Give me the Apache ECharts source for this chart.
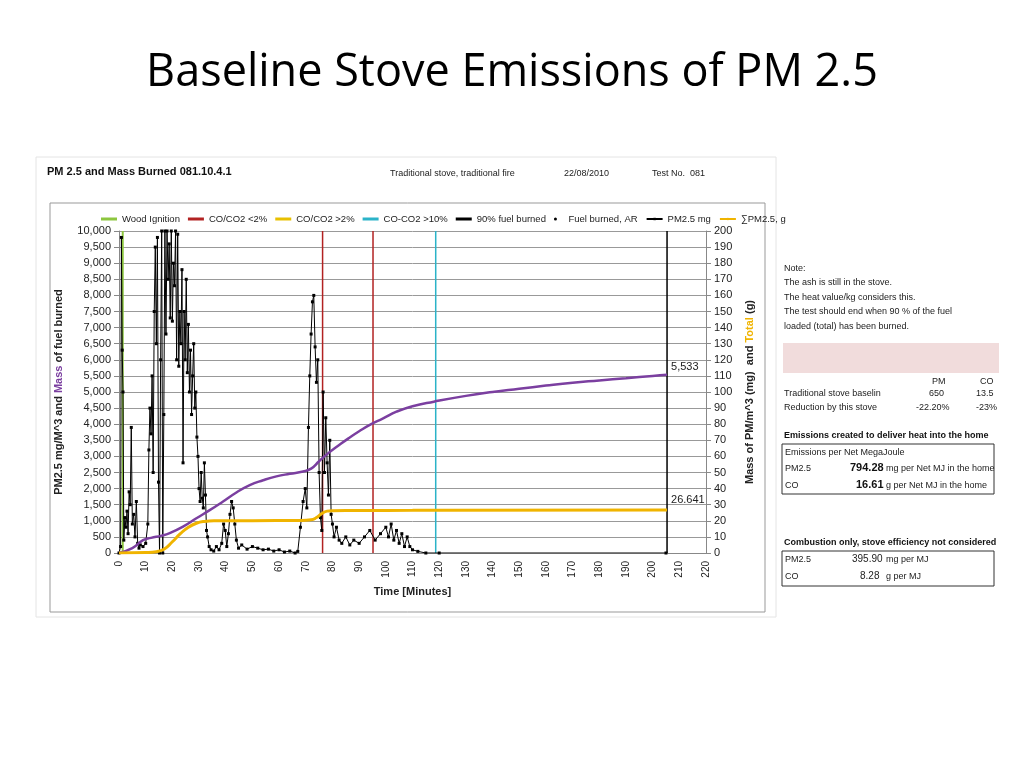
<!DOCTYPE html>
<html><head><meta charset="utf-8">
<script src="https://cdn.jsdelivr.net/npm/echarts@6/dist/echarts.min.js"></script>
<style>html,body{margin:0;padding:0;background:#fff}#c{width:1024px;height:768px}</style>
</head><body><div id="c"></div>
<script>
// ---- data ----
const woodIgnitionX = 1.4;
const coLow2X = [76.3, 95.2];
const coHigh10X = 118.7;
const fuel90X = 205.4;
// Fuel burned (left axis, g) [min, value]
const fuelBurned = [[0,0],[5,150],[9,400],[12,470],[16,540],[19,620],[24,820],[29,1080],[34,1330],[39,1600],[44,1880],[49,2110],[54,2260],[59,2380],[64,2460],[69,2530],[72,2620],[75,2850],[78,3070],[82,3320],[86,3560],[90,3780],[94,3980],[99,4180],[104,4390],[110,4560],[118,4700],[130,4880],[140,5000],[150,5100],[160,5200],[170,5290],[180,5360],[190,5430],[200,5500],[205.4,5533]];
// Cumulative PM2.5 (right axis, g)
const pmCumulative = [[0,0],[10,0.3],[14,0.8],[17,2.5],[20,7],[23,12],[26,16],[29,18.5],[32,19.6],[36,20],[50,20.1],[68,20.2],[72,20.6],[74,22],[76,24.5],[78,26],[80,26.3],[90,26.4],[110,26.5],[120,26.6],[205.4,26.641]];
// PM2.5 concentration (left axis, mg/m^3)
const pm25 = [[0,0],[0.6,200],[0.9,9800],[1.2,6300],[1.5,5000],[1.8,400],[2.2,1100],[2.6,800],[3,1300],[3.4,600],[3.8,1900],[4.2,1500],[4.6,3900],[5,900],[5.5,1200],[6,500],[6.5,1600],[7,300],[7.5,150],[8,250],[9,200],[10,300],[10.8,900],[11.2,3200],[11.6,4500],[12,3700],[12.4,5500],[12.8,2500],[13.2,7500],[13.6,9500],[14,6500],[14.4,9800],[14.8,2200],[15.2,0],[15.6,6000],[16,10000],[16.4,0],[16.8,4300],[17.2,10000],[17.6,6800],[18,10000],[18.4,8500],[18.8,9600],[19.2,7300],[19.6,10000],[20,7200],[20.4,9000],[20.8,8300],[21.2,10000],[21.6,6000],[22,9900],[22.4,5800],[22.8,7500],[23.2,6500],[23.6,8800],[24,2800],[24.4,7500],[24.8,6000],[25.2,8500],[25.6,5600],[26,7100],[26.4,5000],[26.8,6300],[27.2,4300],[27.6,5500],[28,6500],[28.4,4500],[28.8,5000],[29.2,3600],[29.6,3000],[30,2000],[30.4,1600],[30.8,2500],[31.2,1700],[31.6,1400],[32,2800],[32.4,1800],[32.8,700],[33.2,500],[33.8,200],[34.5,100],[35.5,60],[36.5,200],[37.5,100],[38.5,300],[39.2,900],[39.8,700],[40.4,200],[41,600],[41.6,1200],[42.2,1600],[42.8,1400],[43.4,900],[44,400],[44.8,150],[46,250],[48,120],[50,200],[52,150],[54,100],[56,120],[58,60],[60,100],[62,30],[64,60],[66,0],[67,50],[68,800],[69,1600],[69.8,2000],[70.4,1400],[71,3900],[71.5,5500],[72,6800],[72.5,7800],[73,8000],[73.5,6400],[74,5300],[74.5,6000],[75,2500],[75.5,1100],[76,700],[76.5,5000],[77,2500],[77.5,4200],[78,2800],[78.5,1800],[79,3500],[79.5,1200],[80,900],[80.6,500],[81.5,800],[82.5,400],[83.5,300],[85,500],[86.5,250],[88,400],[90,300],[92,500],[94,700],[96,400],[98,600],[100,800],[101,500],[102,900],[103,400],[104,700],[105,300],[106,600],[107,200],[108,500],[109,200],[110,100],[112,50],[115,0],[120,0],[205,0]];
const leftTicks = {min:0,max:10000,interval:500};
const rightTicks = {min:0,max:200,interval:10};

const chart = echarts.init(document.getElementById('c'));
const fz = 'Liberation Sans, Arial, sans-serif';
function vline(x){return [[x,0],[x,10000]];}
const series = [
 {name:'Wood Ignition',type:'line',data:vline(woodIgnitionX),symbol:'none',lineStyle:{color:'#8dc63f',width:2},color:'#8dc63f'},
 {name:'CO/CO2 <2%',type:'line',data:vline(coLow2X[0]),symbol:'none',lineStyle:{color:'#b22222',width:1.5},color:'#b22222'},
 {name:'CO/CO2 <2%',type:'line',data:vline(coLow2X[1]),symbol:'none',lineStyle:{color:'#b22222',width:1.5},color:'#b22222'},
 {name:'CO/CO2 >2%',type:'line',data:[],symbol:'none',lineStyle:{color:'#e8c000',width:2},color:'#e8c000'},
 {name:'CO-CO2 >10%',type:'line',data:vline(coHigh10X),symbol:'none',lineStyle:{color:'#2bb3c8',width:1.5},color:'#2bb3c8'},
 {name:'90% fuel burned',type:'line',data:vline(fuel90X),symbol:'none',lineStyle:{color:'#000',width:1.5},color:'#000'},
 {name:'PM2.5 mg',type:'line',data:pm25,symbol:'rect',symbolSize:3,itemStyle:{color:'#000'},lineStyle:{color:'#000',width:1},color:'#000',z:3},
 {name:'Fuel burned, AR',type:'line',data:fuelBurned,smooth:true,symbol:'none',lineStyle:{color:'#7b3fa0',width:2.5},color:'#7b3fa0',z:4,
  endLabel:{show:true,formatter:'5,533',color:'#222',fontSize:11,fontFamily:fz,offset:[-4,-8]}},
 {name:'∑PM2.5, g',type:'line',yAxisIndex:1,data:pmCumulative,smooth:true,symbol:'none',lineStyle:{color:'#f0b400',width:3},color:'#f0b400',z:4,
  endLabel:{show:true,formatter:'26.641',color:'#222',fontSize:11,fontFamily:fz,offset:[-4,-10]}}
];
const axLab = {fontSize:11,color:'#222',fontFamily:fz};
const li = (n,icon,c)=>({name:n,icon:icon,itemStyle:{color:c}});
chart.setOption({
 animation:false,
 textStyle:{fontFamily:fz},
 title:{text:'Baseline Stove Emissions of PM 2.5',left:'center',top:46,textStyle:{fontSize:45,fontWeight:'normal',color:'#000',fontFamily:'Open Sans, sans-serif'}},
 legend:{top:209,left:96,itemGap:8,itemWidth:16,itemHeight:3,textStyle:{fontSize:9.5,color:'#222'},
   data:[li('Wood Ignition','rect'),li('CO/CO2 <2%','rect'),li('CO/CO2 >2%','rect'),li('CO-CO2 >10%','rect'),li('90% fuel burned','rect'),
     {name:'Fuel burned, AR',icon:'circle',itemStyle:{color:'#000'}},{name:'PM2.5 mg'},{name:'∑PM2.5, g'}]},
 grid:{left:119,right:318,top:231,bottom:215},
 xAxis:{type:'value',min:0,max:220,interval:10,name:'Time [Minutes]',nameLocation:'middle',nameGap:33,
   nameTextStyle:{fontSize:11,fontWeight:'bold',color:'#222'},
   axisLabel:Object.assign({rotate:90},axLab,{fontSize:10}),splitLine:{show:false},axisLine:{lineStyle:{color:'#888'}},axisTick:{show:false}},
 yAxis:[
  {type:'value',min:leftTicks.min,max:leftTicks.max,interval:leftTicks.interval,
   axisLabel:Object.assign({formatter:v=>v.toLocaleString('en-US')},axLab),splitLine:{lineStyle:{color:'#999'}},axisLine:{show:true,lineStyle:{color:'#888'}},
   name:'{a|PM2.5 mg/M^3 and }{p|Mass}{a| of fuel burned}',nameLocation:'middle',nameGap:55,nameRotate:90,
   nameTextStyle:{rich:{a:{fontSize:11,fontWeight:'bold',color:'#222'},p:{fontSize:11,fontWeight:'bold',color:'#7b3fa0'}}}},
  {type:'value',min:rightTicks.min,max:rightTicks.max,interval:rightTicks.interval,position:'right',
   axisLabel:axLab,splitLine:{show:false},axisLine:{show:true,lineStyle:{color:'#888'}},
   name:'{a|Mass of PM/m^3 (mg)  and }{y|Total}{a| (g)}',nameLocation:'middle',nameGap:38,nameRotate:90,
   nameTextStyle:{rich:{a:{fontSize:11,fontWeight:'bold',color:'#222'},y:{fontSize:11,fontWeight:'bold',color:'#f0b400'}}}}
 ],
 series:series,
 graphic:[
  {type:'rect',shape:{x:36,y:157,width:740,height:460},style:{fill:'none',stroke:'#e4e4e4'},z:-10},
  {type:'rect',shape:{x:50,y:203,width:715,height:409},style:{fill:'none',stroke:'#999'},z:-9},
  {type:'text',left:47,top:166,style:{text:'PM 2.5 and Mass Burned 081.10.4.1',font:'bold 11px '+fz,fill:'#111'}},
  {type:'text',left:390,top:169,style:{text:'Traditional stove, traditional fire',font:'9px '+fz,fill:'#222'}},
  {type:'text',left:564,top:169,style:{text:'22/08/2010',font:'9px '+fz,fill:'#222'}},
  {type:'text',left:652,top:169,style:{text:'Test No.  081',font:'9px '+fz,fill:'#222'}},
  {type:'text',left:784,top:261,style:{text:'Note:\nThe ash is still in the stove.\nThe heat value/kg considers this.\nThe test should end when 90 % of the fuel\nloaded (total) has been burned.',font:'9px '+fz,fill:'#222',lineHeight:14.5}},
  {type:'rect',shape:{x:783,y:343,width:216,height:30},style:{fill:'#f1dcdc'}},
  {type:'text',left:932,top:377,style:{text:'PM',font:'9px '+fz,fill:'#222'}},
  {type:'text',left:980,top:377,style:{text:'CO',font:'9px '+fz,fill:'#222'}},
  {type:'text',left:784,top:389,style:{text:'Traditional stove baselin',font:'9px '+fz,fill:'#222'}},
  {type:'text',left:929,top:389,style:{text:'650',font:'9px '+fz,fill:'#222'}},
  {type:'text',left:976,top:389,style:{text:'13.5',font:'9px '+fz,fill:'#222'}},
  {type:'text',left:784,top:403,style:{text:'Reduction by this stove',font:'9px '+fz,fill:'#222'}},
  {type:'text',left:916,top:403,style:{text:'-22.20%',font:'9px '+fz,fill:'#222'}},
  {type:'text',left:976,top:403,style:{text:'-23%',font:'9px '+fz,fill:'#222'}},
  {type:'text',left:784,top:431,style:{text:'Emissions created to deliver heat into the home',font:'bold 9px '+fz,fill:'#111'}},
  {type:'rect',shape:{x:782,y:444,width:212,height:50},style:{fill:'none',stroke:'#333'}},
  {type:'text',left:785,top:448,style:{text:'Emissions per Net MegaJoule',font:'9px '+fz,fill:'#222'}},
  {type:'text',left:785,top:464,style:{text:'PM2.5',font:'9px '+fz,fill:'#222'}},
  {type:'text',left:850,top:462,style:{text:'794.28',font:'bold 11px '+fz,fill:'#111'}},
  {type:'text',left:886,top:464,style:{text:'mg per Net MJ in the home',font:'9px '+fz,fill:'#222'}},
  {type:'text',left:785,top:481,style:{text:'CO',font:'9px '+fz,fill:'#222'}},
  {type:'text',left:856,top:479,style:{text:'16.61',font:'bold 11px '+fz,fill:'#111'}},
  {type:'text',left:886,top:481,style:{text:'g per Net MJ in the home',font:'9px '+fz,fill:'#222'}},
  {type:'text',left:784,top:538,style:{text:'Combustion only, stove efficiency not considered',font:'bold 9px '+fz,fill:'#111'}},
  {type:'rect',shape:{x:782,y:551,width:212,height:35},style:{fill:'none',stroke:'#333'}},
  {type:'text',left:785,top:555,style:{text:'PM2.5',font:'9px '+fz,fill:'#222'}},
  {type:'text',left:852,top:554,style:{text:'395.90',font:'10px '+fz,fill:'#222'}},
  {type:'text',left:886,top:555,style:{text:'mg per MJ',font:'9px '+fz,fill:'#222'}},
  {type:'text',left:785,top:572,style:{text:'CO',font:'9px '+fz,fill:'#222'}},
  {type:'text',left:860,top:571,style:{text:'8.28',font:'10px '+fz,fill:'#222'}},
  {type:'text',left:886,top:572,style:{text:'g per MJ',font:'9px '+fz,fill:'#222'}}
 ]
});
</script></body></html>
